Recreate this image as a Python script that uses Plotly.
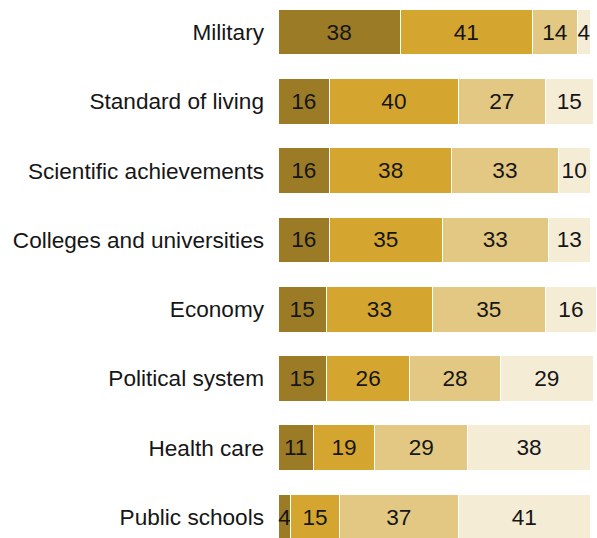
import plotly.graph_objects as go

categories = [
    "Military",
    "Standard of living",
    "Scientific achievements",
    "Colleges and universities",
    "Economy",
    "Political system",
    "Health care",
    "Public schools",
]

s1 = [38, 16, 16, 16, 15, 15, 11, 4]
s2 = [41, 40, 38, 35, 33, 26, 19, 15]
s3 = [14, 27, 33, 33, 35, 28, 29, 37]
s4 = [4, 15, 10, 13, 16, 29, 38, 41]

colors = ["#9c7b27", "#d4a62f", "#e3c883", "#f5ecd6"]
FONT = "Liberation Sans, Arial, sans-serif"

fig = go.Figure()
for vals, col in zip([s1, s2, s3, s4], colors):
    fig.add_trace(go.Bar(
        y=categories,
        x=vals,
        orientation="h",
        marker=dict(color=col, line=dict(color="white", width=1)),
        text=[str(v) for v in vals],
        textposition="inside",
        insidetextanchor="middle",
        textfont=dict(family=FONT, size=22.6, color="#161616"),
        hoverinfo="skip",
    ))

fig.update_layout(
    barmode="stack",
    bargap=0.34,
    width=597,
    height=538,
    margin=dict(l=278, r=0, t=0, b=0),
    paper_bgcolor="white",
    plot_bgcolor="white",
    showlegend=False,
    uniformtext=dict(minsize=22.6, mode="show"),
    font=dict(family=FONT, size=22.6, color="#161616"),
)
fig.update_xaxes(range=[0, 99.1], visible=False, fixedrange=True)
fig.update_yaxes(
    range=[7.303, -0.462],
    showgrid=False,
    zeroline=False,
    showline=False,
    ticks="",
    ticklabelstandoff=13,
    tickfont=dict(family=FONT, size=22.6, color="#161616"),
)

fig.write_html("out.html")
